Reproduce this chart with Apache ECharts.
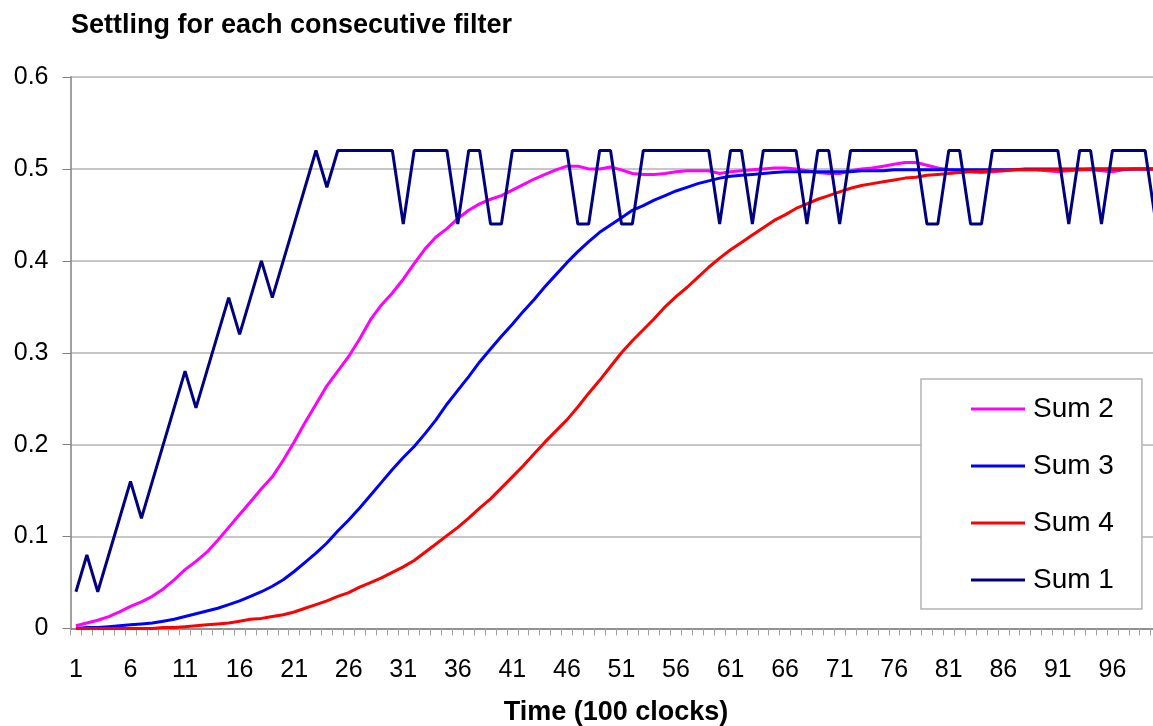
<!DOCTYPE html>
<html>
<head>
<meta charset="utf-8">
<script src="https://cdn.jsdelivr.net/npm/echarts@6/dist/echarts.min.js"></script>
<style>html,body{margin:0;padding:0;background:#fff;overflow:hidden;}#c{width:1180px;height:726px;}</style>
</head>
<body>
<div id="c"></div>
<script>
var categories = [];
for (var i = 1; i <= 100; i++) categories.push(String(i));

var sum1 = [0.04,0.08,0.04,0.08,0.12,0.16,0.12,0.16,0.20,0.24,
0.28,0.24,0.28,0.32,0.36,0.32,0.36,0.40,0.36,0.40,
0.44,0.48,0.52,0.48,0.52,0.52,0.52,0.52,0.52,0.52,
0.44,0.52,0.52,0.52,0.52,0.44,0.52,0.52,0.44,0.44,
0.52,0.52,0.52,0.52,0.52,0.52,0.44,0.44,0.52,0.52,
0.44,0.44,0.52,0.52,0.52,0.52,0.52,0.52,0.52,0.44,
0.52,0.52,0.44,0.52,0.52,0.52,0.52,0.44,0.52,0.52,
0.44,0.52,0.52,0.52,0.52,0.52,0.52,0.52,0.44,0.44,
0.52,0.52,0.44,0.44,0.52,0.52,0.52,0.52,0.52,0.52,
0.52,0.44,0.52,0.52,0.44,0.52,0.52,0.52,0.52,0.44];

var sum2 = [0.003,0.006,0.009,0.013,0.018,0.024,0.029,0.035,0.043,0.053,
0.064,0.073,0.083,0.096,0.110,0.124,0.138,0.152,0.165,0.183,
0.203,0.224,0.244,0.264,0.280,0.296,0.315,0.336,0.352,0.365,
0.380,0.397,0.413,0.426,0.435,0.446,0.455,0.462,0.467,0.471,
0.477,0.483,0.489,0.494,0.499,0.503,0.503,0.500,0.500,0.502,
0.499,0.495,0.494,0.494,0.495,0.497,0.498,0.498,0.498,0.495,
0.497,0.498,0.499,0.500,0.501,0.501,0.500,0.498,0.496,0.495,
0.495,0.498,0.500,0.501,0.503,0.505,0.507,0.507,0.504,0.501,
0.499,0.498,0.497,0.496,0.497,0.498,0.499,0.499,0.499,0.498,
0.497,0.498,0.499,0.499,0.498,0.497,0.499,0.500,0.500,0.500];

var sum3 = [0.000,0.001,0.001,0.002,0.003,0.004,0.005,0.006,0.008,0.010,
0.013,0.016,0.019,0.022,0.026,0.030,0.035,0.040,0.046,0.053,
0.062,0.072,0.082,0.093,0.106,0.118,0.131,0.145,0.159,0.173,
0.186,0.198,0.212,0.227,0.244,0.259,0.274,0.290,0.304,0.318,
0.331,0.345,0.358,0.372,0.385,0.398,0.410,0.421,0.431,0.439,
0.447,0.455,0.460,0.466,0.471,0.476,0.480,0.484,0.487,0.490,
0.492,0.493,0.494,0.495,0.496,0.497,0.497,0.497,0.497,0.497,
0.497,0.497,0.498,0.498,0.498,0.499,0.499,0.499,0.499,0.499,
0.499,0.499,0.499,0.499,0.499,0.499,0.499,0.500,0.500,0.500,
0.500,0.500,0.500,0.500,0.500,0.500,0.500,0.500,0.500,0.500];

var sum4 = [0.000,0.000,0.000,0.000,0.000,0.000,0.000,0.000,0.001,0.001,
0.002,0.003,0.004,0.005,0.006,0.008,0.010,0.011,0.013,0.015,
0.018,0.022,0.026,0.030,0.035,0.039,0.045,0.050,0.055,0.061,
0.067,0.074,0.083,0.092,0.101,0.110,0.120,0.131,0.141,0.153,
0.165,0.177,0.190,0.203,0.215,0.227,0.241,0.256,0.270,0.285,
0.300,0.313,0.325,0.337,0.350,0.361,0.371,0.382,0.393,0.403,
0.412,0.420,0.428,0.436,0.444,0.450,0.457,0.462,0.467,0.471,
0.475,0.479,0.482,0.484,0.486,0.488,0.490,0.491,0.493,0.494,
0.495,0.496,0.497,0.497,0.498,0.498,0.499,0.499,0.499,0.499,
0.499,0.499,0.499,0.500,0.500,0.500,0.500,0.500,0.500,0.500];

var yTicks = [0, 0.1, 0.2, 0.3, 0.4, 0.5, 0.6];
var seriesNames = ['Sum 2', 'Sum 3', 'Sum 4', 'Sum 1'];
var seriesColors = ['#ff00ff', '#0000ff', '#ff0000', '#000080'];
var seriesData = [sum2, sum3, sum4, sum1];

var FONT = 'Liberation Sans, Arial, sans-serif';
var chart = echarts.init(document.getElementById('c'), null, {renderer: 'canvas'});

var series = seriesNames.map(function (n, k) {
  return {
    name: n, type: 'line', data: seriesData[k], symbol: 'none', smooth: false,
    lineStyle: {color: seriesColors[k], width: 3}, itemStyle: {color: seriesColors[k]},
    animation: false
  };
});

chart.setOption({
  animation: false,
  backgroundColor: '#fff',
  title: {
    text: 'Settling for each consecutive filter',
    left: 71, top: 12, padding: 0,
    textStyle: {fontFamily: FONT, fontSize: 27, fontWeight: 'bold', color: '#000'}
  },
  grid: {left: 70.5, top: 77, height: 551.5, width: 1091, containLabel: false, outerBoundsMode: 'none'},
  legend: {
    orient: 'vertical', left: 921, top: 379,
    data: seriesNames,
    icon: 'rect', itemWidth: 54, itemHeight: 3, itemGap: 27,
    padding: [15, 28, 14, 50],
    borderColor: '#b4b4b4', borderWidth: 1.5, backgroundColor: '#fff',
    textStyle: {fontFamily: FONT, fontSize: 28, color: '#000', lineHeight: 30, padding: [0, 0, 0, 3]}
  },
  xAxis: {
    type: 'category', data: categories, boundaryGap: true,
    name: 'Time (100 clocks)', nameLocation: 'middle', nameGap: 71,
    nameTextStyle: {fontFamily: FONT, fontSize: 27, fontWeight: 'bold', color: '#000'},
    axisLine: {lineStyle: {color: '#808080', width: 1.5}},
    axisTick: {show: true, interval: 0, length: 7, lineStyle: {color: '#a0a0a0'}},
    axisLabel: {interval: 4, fontFamily: FONT, fontSize: 25, color: '#000', margin: 29},
    splitLine: {show: false}
  },
  yAxis: {
    type: 'value', min: yTicks[0], max: yTicks[yTicks.length - 1], interval: 0.1,
    axisLine: {show: true, lineStyle: {color: '#808080', width: 1.5}},
    axisTick: {show: true, length: 8, lineStyle: {color: '#808080'}},
    axisLabel: {fontFamily: FONT, fontSize: 25, color: '#000', margin: 22,
      formatter: function (v) { return String(Math.round(v * 10) / 10); }},
    splitLine: {show: true, lineStyle: {color: '#b4b4b4', width: 1.5}}
  },
  series: series
});
</script>
</body>
</html>
